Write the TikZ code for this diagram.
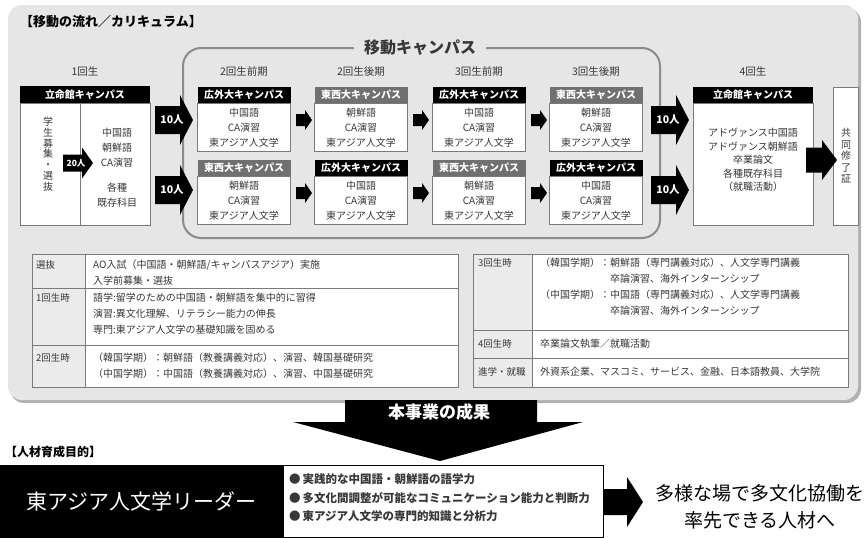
\documentclass[tikz,border=0pt]{standalone}
\usepackage{fontspec}
\setmainfont{Noto Sans CJK JP}
\usetikzlibrary{positioning}

\definecolor{panel}{HTML}{E6E6E6}
\definecolor{mob}{HTML}{8C8C8C}
\definecolor{grhead}{HTML}{707070}
\definecolor{txt}{HTML}{383838}
\definecolor{cellg}{HTML}{EBEBEB}
\definecolor{rule}{HTML}{7A7A7A}
\colorlet{colk}{black}
\colorlet{colg}{grhead}

\newcommand{\fs}[2]{\fontsize{#1}{#2}\selectfont}
\newcommand{\namek}{広外大キャンパス}
\newcommand{\nameg}{東西大キャンパス}
\newcommand{\subk}{中国語\\CA演習\\東アジア人文学}
\newcommand{\subg}{朝鮮語\\CA演習\\東アジア人文学}
% block arrow: name, tail x, mid y, shaft length, head length, shaft half, head half, text
\newcommand{\barrow}[8]{%
    \fill (#2,{#3-#6}) -- ({#2+#4},{#3-#6}) -- ({#2+#4},{#3-#7}) -- ({#2+#4+#5},#3)
        -- ({#2+#4},{#3+#7}) -- ({#2+#4},{#3+#6}) -- (#2,{#3+#6}) -- cycle;
    \node[text=white, inner sep=0pt, font=\bfseries\fs{10.5}{12}] (#1) at ({#2+(#4+#5)/2-2},#3) {#8};}

\begin{document}
\begin{tikzpicture}[x=1pt, y=-1pt,
    colhead/.style={font=\fs{10.5}{12}, text=txt},
    hdr/.style={minimum width=93pt, minimum height=16pt, inner sep=0pt, text=white, font=\bfseries\fs{10}{12}},
    body/.style={draw=rule, line width=0.8pt, fill=white, minimum width=93pt, minimum height=48pt, inner sep=0pt, align=center, text=txt, font=\fs{10}{15}},
    cell/.style={anchor=north west, inner sep=0pt, align=left, text=txt, font=\fs{10}{16}},
    lbl/.style={anchor=north west, inner sep=0pt, text=txt, font=\fs{9.5}{12}}]

    \fill[white] (0,0) rectangle (865,538);
    \useasboundingbox (0,0) rectangle (865,538);

    % panel
    \fill[black!30, rounded corners=14pt] (10,8) rectangle (861,403);
    \fill[panel, rounded corners=14pt] (8,5) rectangle (858,400);
    \node[anchor=west, inner sep=0pt, font=\bfseries\fs{13}{15}] (title) at (20,22) {【移動の流れ／カリキュラム】};

    \draw[mob, line width=2pt, rounded corners=18pt] (183,48) rectangle (660,238);
    \node[fill=panel, inner xsep=10pt, text=txt, font=\bfseries\fs{16}{18}] (mobtitle) at (420,48) {移動キャンパス};

    % 1st year
    \node[colhead] (yr0) at (85,72) {1回生};
    \node[hdr, fill=black, minimum width=130pt, minimum height=17pt] (h1) at (85,94.5) {立命館キャンパス};
    \node[body, minimum width=130pt, minimum height=122pt, below=0pt of h1] (b1) {};
    \draw[rule, line width=0.8pt] ([xshift=-5pt]b1.north) -- ([xshift=-5pt]b1.south);
    \node[text=txt, align=center, font=\fs{10}{10.8}] (boshu) at (48,154) {学\\生\\募\\集\\・\\選\\抜};
    \node[text=txt, align=center, font=\fs{10}{15}] (k1) at (117,168) {中国語\\朝鮮語\\CA演習\\[10pt]各種\\既存科目};
    \barrow{a20}{63}{163}{19}{11}{8.5}{15.5}{\fs{8.5}{10}20人}

    % moving campus
    \foreach \i/\cx/\tp/\bt/\hd in {1/244/k/g/2回生前期, 2/361/g/k/2回生後期, 3/479/k/g/3回生前期, 4/596/g/k/3回生後期} {
        \node[colhead] (yr\i) at (\cx,72) {\hd};
        \node[hdr, fill=col\tp] (ta\i) at (\cx,95) {\csname name\tp\endcsname};
        \node[body, below=0pt of ta\i] (tb\i) {\csname sub\tp\endcsname};
        \node[hdr, fill=col\bt] (ba\i) at (\cx,168) {\csname name\bt\endcsname};
        \node[body, below=0pt of ba\i] (bb\i) {\csname sub\bt\endcsname};
    };
    \foreach \x in {296,413,531} {
        \barrow{st\x}{\x}{120}{9}{7}{6}{10}{}
        \barrow{sb\x}{\x}{193}{9}{7}{6}{10}{}
    };

    % 4th year
    \node[colhead] (yr5) at (753,72) {4回生};
    \node[hdr, fill=black, minimum width=120pt] (h4) at (753,95) {立命館キャンパス};
    \node[body, minimum width=120pt, minimum height=122pt, below=0pt of h4] (b4) {};
    \node[text=txt, align=center, font=\fs{10}{13.5}] (k4) at (753,160) {アドヴァンス中国語\\アドヴァンス朝鮮語\\卒業論文\\各種既存科目\\（就職活動）};
    \node[draw=rule, line width=0.8pt, fill=white, minimum width=25pt, minimum height=138pt, inner sep=0pt, align=center, text=txt, font=\fs{10}{11.5}] (cert) at (846,156) {共\\同\\修\\了\\証};

    \foreach \y/\n in {120/u, 190/d} {
        \barrow{in\n}{155}{\y}{25}{13}{14}{25}{10人}
        \barrow{out\n}{651}{\y}{25}{13}{14}{25}{10人}
    };
    \barrow{a5}{806}{160}{16}{15}{12.5}{20}{}

    % tables
    \fill[cellg] (32,254) rectangle (85,387);
    \fill[white] (85,254) rectangle (458,387);
    \draw[rule, line width=0.8pt] (32,254) rectangle (458,387) (85,254) -- (85,387) (32,288) -- (458,288) (32,345) -- (458,345);
    \node[lbl] (l1) at (36,260) {選抜};
    \node[cell] (t1) at (93,260) {AO入試（中国語・朝鮮語/キャンパスアジア）実施\\入学前募集・選抜};
    \node[lbl] (l2) at (36,293) {1回生時};
    \node[cell] (t2) at (93,293) {語学:留学のための中国語・朝鮮語を集中的に習得\\演習:異文化理解、リテラシー能力の伸長\\専門:東アジア人文学の基礎知識を固める};
    \node[lbl] (l3) at (36,353) {2回生時};
    \node[cell] (t3) at (93,353) {（韓国学期）：朝鮮語（教養講義対応）、演習、韓国基礎研究\\（中国学期）：中国語（教養講義対応）、演習、中国基礎研究};

    \fill[cellg] (473,254) rectangle (532,387);
    \fill[white] (532,254) rectangle (848,387);
    \draw[rule, line width=0.8pt] (473,254) rectangle (848,387) (532,254) -- (532,387) (473,330) -- (848,330) (473,358) -- (848,358);
    \node[lbl] (l4) at (478,258) {3回生時};
    \node[cell] (t4) at (540,258) {（韓国学期）：朝鮮語（専門講義対応）、人文学専門講義\\\phantom{（韓国学期）：}卒論演習、海外インターンシップ\\（中国学期）：中国語（専門講義対応）、人文学専門講義\\\phantom{（中国学期）：}卒論演習、海外インターンシップ};
    \node[lbl] (l5) at (478,339) {4回生時};
    \node[cell] (t5) at (540,339) {卒業論文執筆／就職活動};
    \node[lbl] (l6) at (478,367) {進学・就職};
    \node[cell] (t6) at (540,367) {外資系企業、マスコミ、サービス、金融、日本語教員、大学院};

    % outcome
    \fill (345,400) -- (537,400) -- (537,422) -- (583,422) -- (440,461) -- (293,422) -- (345,422) -- cycle;
    \node[text=white, font=\bfseries\fs{17}{20}] (outcome) at (439,412) {本事業の成果};

    \node[anchor=west, inner sep=0pt, font=\bfseries\fs{12}{14}] (goal) at (5,452) {【人材育成目的】};
    \node[fill=black, anchor=north west, minimum width=283pt, minimum height=73pt, inner sep=0pt, text=white, font=\fs{21}{24}] (leader) at (0,465) {東アジア人文学リーダー};
    \node[draw=black, line width=1pt, fill=white, anchor=north west, minimum width=320pt, minimum height=72pt, inner sep=0pt] (skills) at (283,465) {};
    \node[anchor=west, inner sep=0pt, align=left, text=txt, font=\bfseries\fs{11.5}{18.5}] (skilltxt) at (289,498) {●\hspace{2pt}実践的な中国語・朝鮮語の語学力\\●\hspace{2pt}多文化間調整が可能なコミュニケーション能力と判断力\\●\hspace{2pt}東アジア人文学の専門的知識と分析力};
    \barrow{a6}{603}{502}{24}{16}{13}{25}{}
    \node[align=center, font=\fs{19}{27}] (result) at (760,507) {多様な場で多文化協働を\\率先できる人材へ};
\end{tikzpicture}
\end{document}
